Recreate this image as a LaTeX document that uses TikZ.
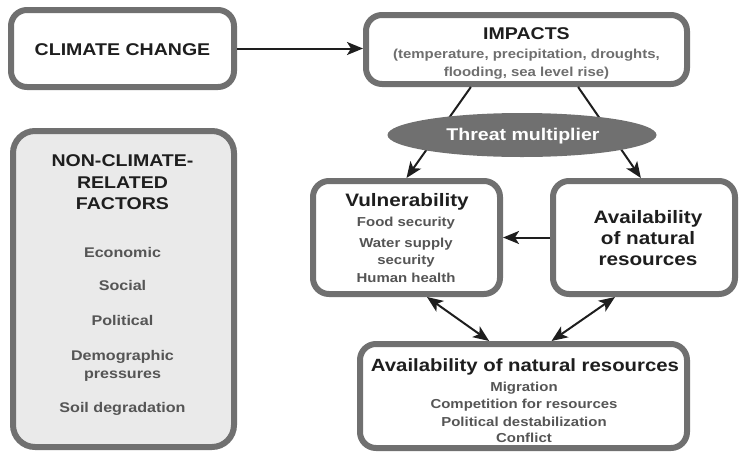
\documentclass[tikz,border=0pt]{standalone}
\usepackage{fontspec}
\setmainfont{Liberation Sans}[FakeStretch=1.15]
\usetikzlibrary{arrows.meta,shapes.geometric}
\definecolor{rim}{RGB}{112,112,112}
\definecolor{panel}{RGB}{234,234,234}
\definecolor{ink}{RGB}{30,30,30}
\definecolor{soft}{RGB}{85,85,85}
\definecolor{pale}{RGB}{110,110,110}

\begin{document}
\begin{tikzpicture}
[every node/.style={inner sep=0pt},
 box/.style={rectangle, rounded corners=16pt, line width=6pt, draw=rim, fill=white},
 head/.style={anchor=base, font=\fontsize{17}{20}\selectfont\bfseries, text=ink},
 item/.style={anchor=base, font=\fontsize{13}{15}\selectfont\bfseries, text=soft},
 link/.style={line width=2pt, color=ink, -{Stealth[length=16pt,width=13pt,inset=4pt]}},
 twoway/.style={link, {Stealth[length=16pt,width=13pt,inset=4pt]}-{Stealth[length=16pt,width=13pt,inset=4pt]}}]
\useasboundingbox (0pt,0pt) rectangle (739pt,-453pt);
\node (climate) [box, minimum width=223pt, minimum height=77pt] at (122.5pt, -48.5pt) {};
\node (impacts) [box, minimum width=321pt, minimum height=69pt] at (526.5pt, -49.5pt) {};
\node (nonclim) [box, fill=panel, rounded corners=22pt, minimum width=221pt, minimum height=316pt] at (123.5pt, -289pt) {};
\node (vuln) [box, minimum width=187pt, minimum height=113pt] at (406.5pt, -237.5pt) {};
\node (avail) [box, minimum width=182pt, minimum height=113pt] at (644pt, -237.5pt) {};
\node (conflict) [box, minimum width=327pt, minimum height=104pt] at (523.5pt, -396pt) {};
\draw [link] (impacts.214.5) to (vuln.north);
\draw [link] (impacts.-36.6) to (avail.93);
\node (threat) [ellipse, fill=rim, minimum width=269pt, minimum height=44pt] at (522pt, -135pt) {};
\draw [link] (climate.east) to (impacts.west |- climate.east);
\draw [link] (avail.west) to (vuln.east);
\draw [twoway] (vuln.-71) to (conflict.122);
\draw [twoway] (avail.-116.4) to (conflict.63);
\node (climtxt) [head] at (122.5pt, -55pt) {CLIMATE CHANGE};
\node (imptxt) [head] at (526.5pt, -39pt) {IMPACTS};
\node (imp1) [item, text=pale] at (526.5pt, -58.5pt) {(temperature, precipitation, droughts,};
\node (imp2) [item, text=pale] at (526.5pt, -76.5pt) {flooding, sea level rise)};
\node (threattxt) [head, text=white] at (523pt, -140.5pt) {Threat multiplier};
\node (vulntxt) [head, font=\fontsize{18}{20}\selectfont\bfseries] at (407pt, -206pt) {Vulnerability};
\foreach \txt/\y [count=\k] in {Food security/226.5, Water supply/247.5, security/264.5, Human health/282.5}
  \node (vu\k) [item] at (406pt, -\y pt) {\txt};
\foreach \txt/\y [count=\k] in {Availability/223, of natural/244, resources/265}
  \node (av\k) [head, font=\fontsize{18}{20}\selectfont\bfseries] at (648pt, -\y pt) {\txt};
\node (conftxt) [head, font=\fontsize{17.7}{20}\selectfont\bfseries] at (525pt, -371pt) {Availability of natural resources};
\foreach \txt/\y [count=\k] in {Migration/391.5, Competition for resources/408.5, Political destabilization/426.5, Conflict/442.5}
  \node (co\k) [item] at (524pt, -\y pt) {\txt};
\foreach \txt/\y [count=\k] in {NON-CLIMATE-/166, RELATED/188, FACTORS/209}
  \node (nt\k) [head] at (122.5pt, -\y pt) {\txt};
\foreach \txt/\y [count=\k] in {Economic/257, Social/290, Political/325, Demographic/360, pressures/378, Soil degradation/412}
  \node (nc\k) [item, font=\fontsize{14}{16}\selectfont\bfseries] at (122.5pt, -\y pt) {\txt};
\end{tikzpicture}
\end{document}
